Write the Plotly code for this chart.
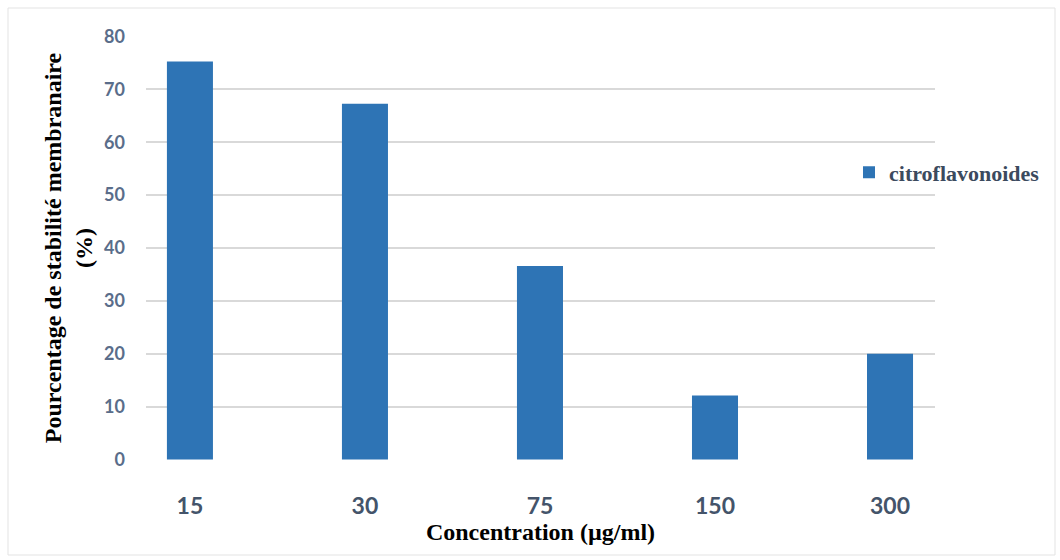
import plotly.graph_objects as go

categories = ["15", "30", "75", "150", "300"]
values = [75.3, 67.3, 36.6, 12.1, 20.0]
series_name = "citroflavonoides"
y_ticks = [0, 10, 20, 30, 40, 50, 60, 70, 80]

fig = go.Figure()
fig.add_trace(go.Bar(
    x=list(range(len(categories))), y=values, name=series_name,
    marker=dict(color="#2E74B5", line=dict(width=0)),
    width=0.263, showlegend=True,
))

fig.update_layout(
    width=1060, height=560,
    margin=dict(l=146, r=125, t=36, b=100),
    paper_bgcolor="white", plot_bgcolor="white",
    showlegend=True,
    legend=dict(x=0.891, y=0.678, xanchor="left", yanchor="middle",
                font=dict(family="Liberation Serif", size=22, color="#3B4A5E", weight="bold"),
                bgcolor="rgba(0,0,0,0)", itemwidth=30),
    xaxis=dict(
        range=[-0.251, 4.257],
        tickmode="array", tickvals=list(range(len(categories))), ticktext=categories,
        showgrid=False, zeroline=False, showline=False, ticks="",
        tickfont=dict(family="Lato", size=23, color="#44546A", weight="bold"),
        ticklabelstandoff=30,
        title=dict(text="<b>Concentration (µg/ml)</b>", standoff=4,
                   font=dict(family="Liberation Serif", size=24, color="black")),
    ),
    yaxis=dict(
        range=[-0.1, 80.1], tickmode="array", tickvals=y_ticks,
        showgrid=True, gridcolor="#D9D9D9", gridwidth=1.5,
        zeroline=False, showline=False, ticks="",
        tickfont=dict(family="Lato", size=18, color="#5A6D8A", weight="bold"),
        ticklabelstandoff=20,
        title=dict(text="<b>Pourcentage de stabilité membranaire<br>(%)</b>", standoff=4,
                   font=dict(family="Liberation Serif", size=24, color="black")),
    ),
    shapes=[dict(type="rect", xref="paper", yref="paper",
                 x0=(8 - 146) / 789, x1=(1055 - 146) / 789,
                 y0=(460 - 555) / 424, y1=(460 - 8) / 424,
                 line=dict(color="#E3E3E3", width=1), fillcolor="rgba(0,0,0,0)", layer="below")],
)

fig.write_html("out.html")
